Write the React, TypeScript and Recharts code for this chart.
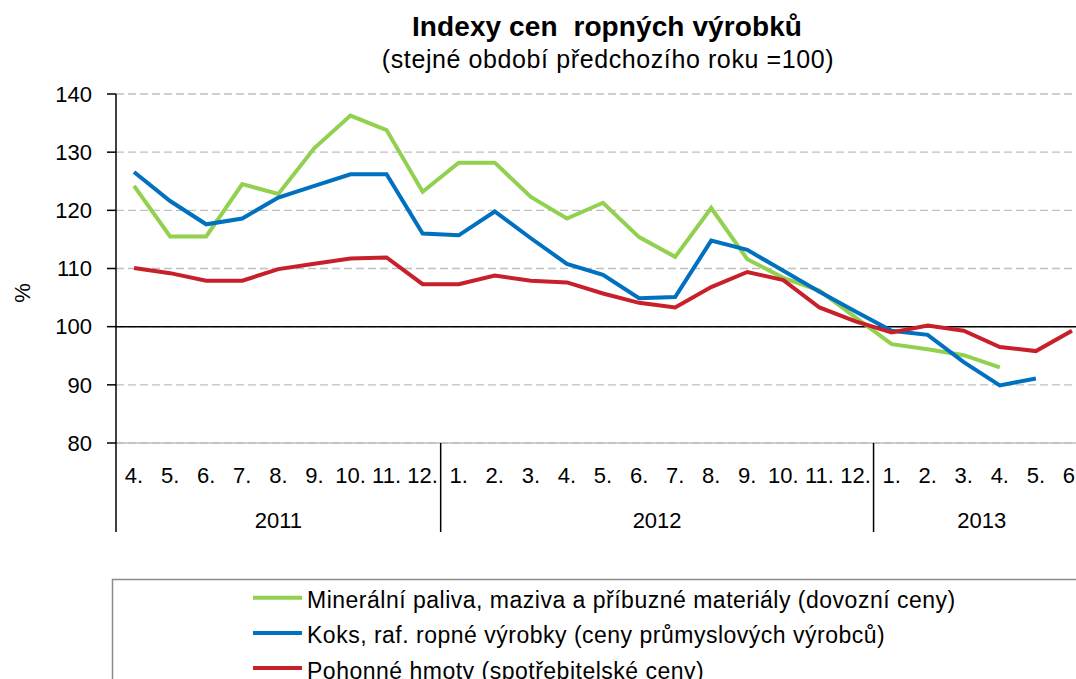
import {
  LineChart,
  Line,
  XAxis,
  YAxis,
  CartesianGrid,
  ReferenceLine,
} from "recharts";

// Měsíce (2011: 4.–12., 2012: 1.–12., 2013: 1.–6.)
const monthLabels = [
  "4.", "5.", "6.", "7.", "8.", "9.", "10.", "11.", "12.",
  "1.", "2.", "3.", "4.", "5.", "6.", "7.", "8.", "9.", "10.", "11.", "12.",
  "1.", "2.", "3.", "4.", "5.", "6.",
];
const yearLabels = ["2011", "2012", "2013"];
const yearLengths = [9, 12, 6];

const mineral = [
  124.2, 115.5, 115.5, 124.5, 122.8, 130.7, 136.3, 133.8, 123.2,
  128.2, 128.2, 122.3, 118.6, 121.3, 115.4, 112.0, 120.4, 111.6, 108.4, 106.2, 101.6,
  97.0, 96.1, 95.1, 93.0, null, null,
];
const koks = [
  126.6, 121.6, 117.6, 118.6, 122.2, 124.2, 126.2, 126.2, 116.0,
  115.7, 119.8, 115.2, 110.8, 108.9, 104.9, 105.1, 114.8, 113.2, 109.6, 106.0, 102.6,
  99.3, 98.6, 93.9, 89.9, 91.1, null,
];
const pohonne = [
  110.1, 109.2, 107.9, 107.9, 109.9, 110.8, 111.7, 111.9, 107.3,
  107.3, 108.8, 107.9, 107.6, 105.7, 104.1, 103.3, 106.8, 109.4, 108.0, 103.3, 100.9,
  99.0, 100.2, 99.3, 96.5, 95.8, 99.3,
];
const yTicks = [80, 90, 100, 110, 120, 130, 140];

const series = [
  { key: "mineral", name: "Minerální paliva, maziva a příbuzné materiály (dovozní ceny)", color: "#92d050" },
  { key: "koks", name: "Koks, raf. ropné výrobky (ceny průmyslových výrobců)", color: "#0070c0" },
  { key: "pohonne", name: "Pohonné hmoty (spotřebitelské ceny)", color: "#c8202a" },
];

const data = monthLabels.map((m, i) => ({
  id: i,
  month: m,
  mineral: mineral[i],
  koks: koks[i],
  pohonne: pohonne[i],
}));

const groups = (() => {
  let start = 0;
  return yearLabels.map((label, i) => {
    const g = { label, start, len: yearLengths[i] };
    start += yearLengths[i];
    return g;
  });
})();

const FONT = "'Liberation Sans', Arial, sans-serif";
const CHART_W = 1100;
const CHART_H = 679;
const MARGIN = { top: 94, right: 10, bottom: 148, left: 0 };
const Y_AXIS_W = 116;
const MONTH_AXIS_H = 44;
const YEAR_AXIS_H = 44;
const BAND = (CHART_W - MARGIN.left - MARGIN.right - Y_AXIS_W) / data.length;

function MonthTick(props: any) {
  const { x, y, index } = props;
  return (
    <text x={x} y={y + 40} textAnchor="middle" fontSize={22} fill="#000" fontFamily={FONT}>
      {monthLabels[index]}
    </text>
  );
}

function YearTick(props: any) {
  const { x, y, index } = props;
  const startOf = groups.find((g) => g.start === index);
  const labelOf = groups.find((g) => g.start + Math.floor(g.len / 2) === index);
  return (
    <g>
      {startOf && (
        <line
          x1={x - BAND / 2}
          x2={x - BAND / 2}
          y1={y - MONTH_AXIS_H}
          y2={y + 45}
          stroke="#000"
          strokeWidth={1.5}
        />
      )}
      {labelOf && (
        <text
          x={x - (labelOf.len % 2 === 0 ? BAND / 2 : 0)}
          y={y + 41}
          textAnchor="middle"
          fontSize={22}
          fill="#000"
          fontFamily={FONT}
        >
          {labelOf.label}
        </text>
      )}
    </g>
  );
}

export default function App() {
  return (
    <div
      style={{
        position: "absolute",
        left: 0,
        top: 0,
        width: 1076,
        height: 679,
        overflow: "hidden",
        background: "#fff",
        fontFamily: FONT,
      }}
    >
      <LineChart width={CHART_W} height={CHART_H} data={data} margin={MARGIN}>
        <CartesianGrid vertical={false} stroke="#bfbfbf" strokeWidth={1.3} strokeDasharray="8 4" />
        <XAxis
          dataKey="id"
          interval={0}
          padding={{ left: BAND / 2, right: BAND / 2 }}
          height={MONTH_AXIS_H}
          axisLine={{ stroke: "#bfbfbf", strokeWidth: 1.5 }}
          tickLine={false}
          tickSize={0}
          tickMargin={0}
          tick={<MonthTick />}
        />
        <XAxis
          xAxisId="year"
          dataKey="id"
          interval={0}
          padding={{ left: BAND / 2, right: BAND / 2 }}
          height={YEAR_AXIS_H}
          axisLine={false}
          tickLine={false}
          tickSize={0}
          tickMargin={0}
          tick={<YearTick />}
        />
        <YAxis
          width={Y_AXIS_W}
          domain={[80, 140]}
          ticks={yTicks}
          interval={0}
          axisLine={{ stroke: "#000", strokeWidth: 1.5 }}
          tickLine={{ stroke: "#000", strokeWidth: 1.5 }}
          tickSize={9}
          tickMargin={15}
          tick={{ fontSize: 22, fill: "#000", fontFamily: FONT }}
        />
        <ReferenceLine y={100} stroke="#000" strokeWidth={1.5} />
        {series.map((s) => (
          <Line
            key={s.key}
            dataKey={s.key}
            name={s.name}
            type="linear"
            stroke={s.color}
            strokeWidth={4}
            dot={false}
            activeDot={false}
            isAnimationActive={false}
          />
        ))}
      </LineChart>

      <svg
        width={1076}
        height={679}
        style={{ position: "absolute", left: 0, top: 0, pointerEvents: "none" }}
        fontFamily={FONT}
      >
        <text
          x={607}
          y={36}
          textAnchor="middle"
          fontSize={28}
          fontWeight="bold"
          letterSpacing={0.1}
          fill="#000"
          style={{ whiteSpace: "pre" }}
        >
          Indexy cen  ropných výrobků
        </text>
        <text x={608} y={68} textAnchor="middle" fontSize={25} letterSpacing={0.6} fill="#000">
          (stejné období předchozího roku =100)
        </text>
        <text transform="translate(29.5,293) rotate(-90)" textAnchor="middle" fontSize={22} fill="#000">
          %
        </text>

        <rect x={112.5} y={579.5} width={1000} height={200} fill="none" stroke="#8c8c8c" strokeWidth={1.5} />
        {series.map((s, i) => {
          const cy = 597.7 + i * 35.2;
          return (
            <g key={s.key}>
              <line x1={253} x2={302} y1={cy} y2={cy} stroke={s.color} strokeWidth={4} />
              <text x={307} y={cy + 10.5} fontSize={23} letterSpacing={0.5} fill="#000">
                {s.name}
              </text>
            </g>
          );
        })}
      </svg>
    </div>
  );
}
